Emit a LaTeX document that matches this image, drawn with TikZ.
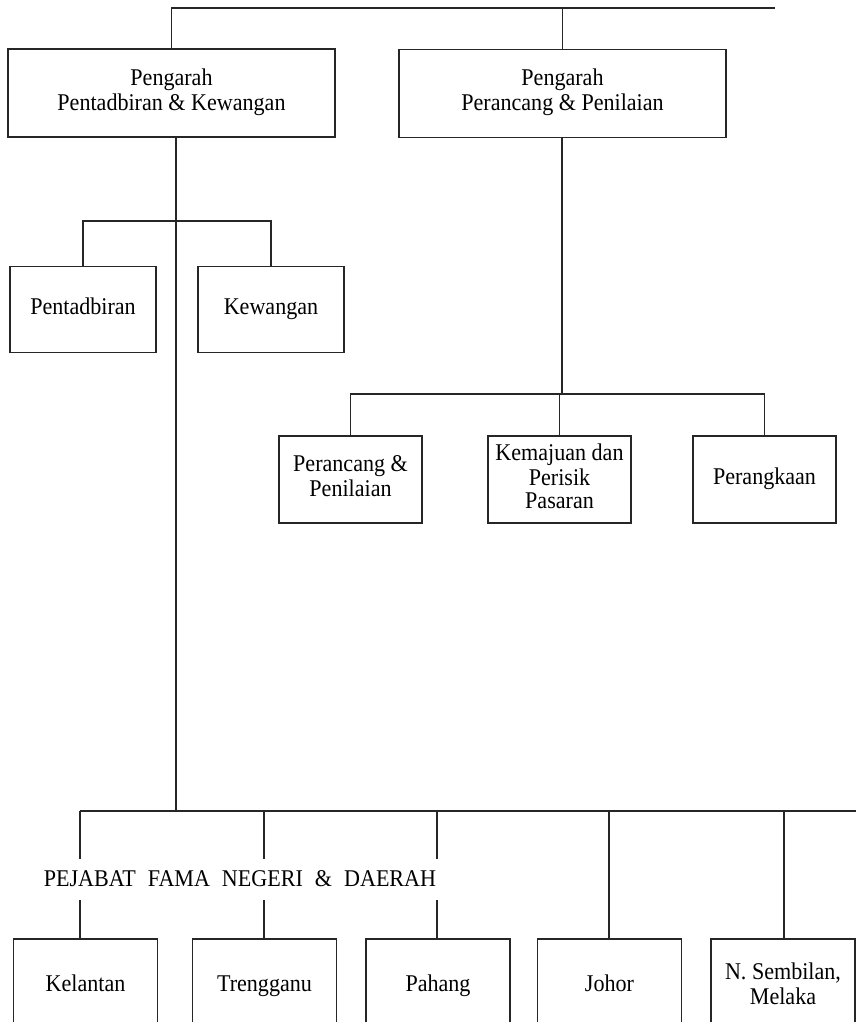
\documentclass[tikz,border=0pt]{standalone}
\usepackage{fontspec}
\setmainfont{Liberation Serif}[FakeStretch=0.92]
\begin{document}
\begin{tikzpicture}[x=1pt,y=-1pt,
  line/.style={draw=black!85,line width=1.9pt},
  box/.style={draw=black!85,line width=1.9pt,fill=white,inner sep=0pt,align=center,
    font=\fontsize{24}{23}\selectfont},
  bigbox/.style={box,minimum width=327pt,minimum height=88pt},
  midbox/.style={box,minimum width=146pt,minimum height=86pt},
  lowbox/.style={box,minimum width=143pt,minimum height=87pt},
  botbox/.style={box,minimum width=144pt,minimum height=96pt}]
\useasboundingbox (0,0) rectangle (856,1022);
\clip (0,0) rectangle (856,1022);

% nodes
\node[bigbox,font=\fontsize{24}{25}\selectfont] (b1) at (171.5,93) {\strut Pengarah\\\strut Pentadbiran \& Kewangan};
\node[bigbox,font=\fontsize{24}{25}\selectfont] (b2) at (562.5,93.5) {\strut Pengarah\\\strut Perancang \& Penilaian};
\node[midbox] (pent) at (83,309.5) {\strut Pentadbiran};
\node[midbox] (kew) at (271,309.5) {\strut Kewangan};
\node[lowbox] (pr) at (350.5,479.5) {\strut Perancang \&\\\strut Penilaian};
\node[lowbox] (km) at (559.5,479.5) {\strut Kemajuan dan\\\strut Perisik\\\strut Pasaran};
\node[lowbox] (pk) at (764.5,479.5) {\strut Perangkaan};
\node[botbox] (kel) at (85.5,987) {\strut Kelantan};
\node[botbox] (tr) at (264.5,987) {\strut Trengganu};
\node[botbox] (ph) at (438,987) {\strut Pahang};
\node[botbox] (jh) at (609.5,987) {\strut Johor};
\node[botbox] (ns) at (783,987) {\strut N. Sembilan,\\\strut Melaka};

% coordinates
\coordinate (tEnd) at (775,8);
\coordinate (br1) at (176,221);
\coordinate (br2) at (562,394);
\coordinate (m) at (176,811);
\coordinate (hEnd) at (860,811);
\coordinate (v1) at (80,811);
\coordinate (v2) at (264,811);
\coordinate (v3) at (437,811);
\coordinate (v4) at (609,811);
\coordinate (v5) at (784,811);

% top
\draw[line] (tEnd) -| (b1.north);
\draw[line] (tEnd -| b2.north) -- (b2.north);
% left branch
\draw[line] (b1.south -| m) -- (m);
\draw[line] (pent.north) |- (br1) -| (kew.north);
% right branch
\draw[line] (b2.south -| br2) -- (br2);
\draw[line] (pr.north) |- (br2) -| (pk.north);
\draw[line] (km.north |- br2) -- (km.north);
% bottom
\draw[line] (v1) -- (hEnd);
\draw[line] (v1) -- (v1 |- kel.north);
\draw[line] (v2) -- (v2 |- tr.north);
\draw[line] (v3) -- (v3 |- ph.north);
\draw[line] (v4) -- (v4 |- jh.north);
\draw[line] (v5) -- (v5 |- ns.north);

\node[fill=white,inner sep=0pt,minimum width=414pt,minimum height=41pt,
  font=\fontsize{24}{26}\selectfont] (lbl) at (240,879)
  {PEJABAT\hspace{12pt}FAMA\hspace{12pt}NEGERI\hspace{12pt}\&\hspace{12pt}DAERAH};
\end{tikzpicture}
\end{document}
